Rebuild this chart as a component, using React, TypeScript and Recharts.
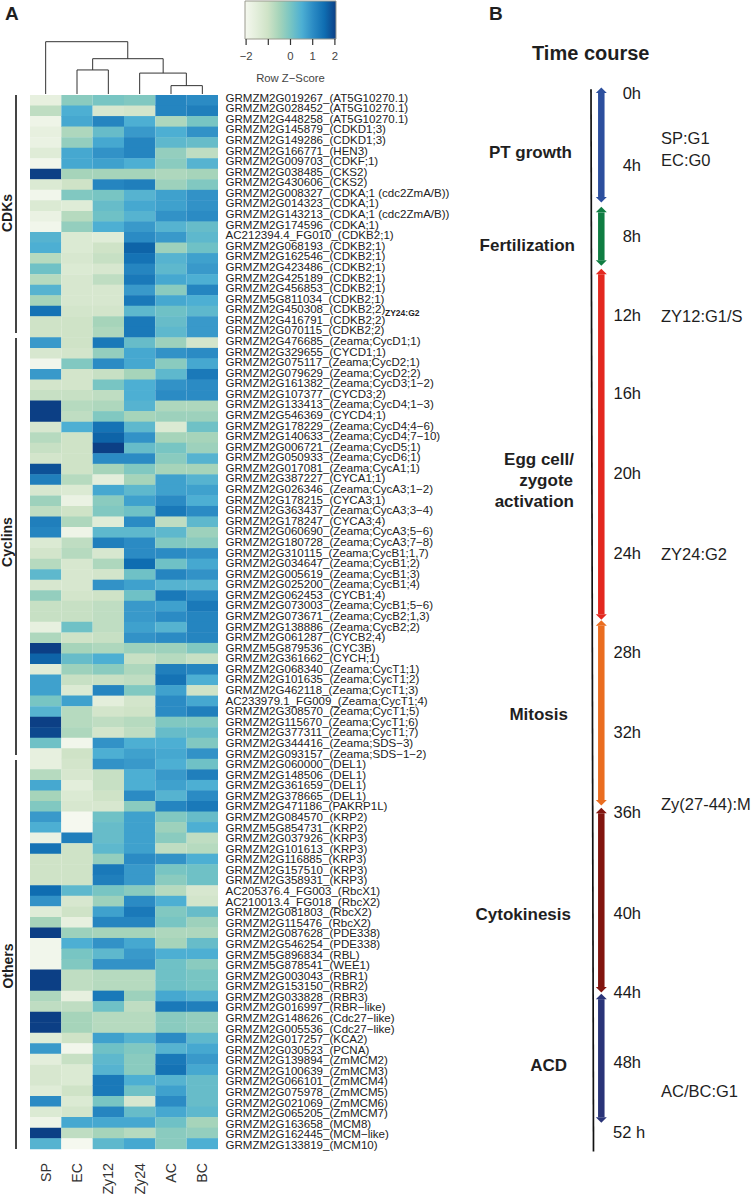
import { BarChart, Bar, Cell, XAxis, YAxis, ComposedChart, Line } from 'recharts';

const FONT = '"Liberation Sans", Arial, sans-serif';

const samples = ['SP', 'EC', 'Zy12', 'Zy24', 'AC', 'BC'];
const sampleTicks = [0.5, 1.5, 2.5, 3.5, 4.5, 5.5];

const cdkGenes = [
    'GRMZM2G019267_(AT5G10270.1)', 'GRMZM2G028452_(AT5G10270.1)', 'GRMZM2G448258_(AT5G10270.1)',
    'GRMZM2G145879_(CDKD1;3)', 'GRMZM2G149286_(CDKD1;3)', 'GRMZM2G166771_(HEN3)', 'GRMZM2G009703_(CDKF;1)',
    'GRMZM2G038485_(CKS2)', 'GRMZM2G430606_(CKS2)', 'GRMZM2G008327_(CDKA;1 (cdc2ZmA/B))', 'GRMZM2G014323_(CDKA;1)',
    'GRMZM2G143213_(CDKA;1 (cdc2ZmA/B))', 'GRMZM2G174596_(CDKA;1)', 'AC212394.4_FG010_(CDKB2;1)',
    'GRMZM2G068193_(CDKB2;1)', 'GRMZM2G162546_(CDKB2;1)', 'GRMZM2G423486_(CDKB2;1)', 'GRMZM2G425189_(CDKB2;1)',
    'GRMZM2G456853_(CDKB2;1)', 'GRMZM5G811034_(CDKB2;1)', 'GRMZM2G450308_(CDKB2;2)', 'GRMZM2G416791_(CDKB2;2)',
    'GRMZM2G070115_(CDKB2;2)',
];
const cyclinGenes = [
    'GRMZM2G476685_(Zeama;CycD1;1)', 'GRMZM2G329655_(CYCD1;1)', 'GRMZM2G075117_(Zeama;CycD2;1)',
    'GRMZM2G079629_(Zeama;CycD2;2)', 'GRMZM2G161382_(Zeama;CycD3;1−2)', 'GRMZM2G107377_(CYCD3;2)',
    'GRMZM2G133413_(Zeama;CycD4;1−3)', 'GRMZM2G546369_(CYCD4;1)', 'GRMZM2G178229_(Zeama;CycD4;4−6)',
    'GRMZM2G140633_(Zeama;CycD4;7−10)', 'GRMZM2G006721_(Zeama;CycD5;1)', 'GRMZM2G050933_(Zeama;CycD6;1)',
    'GRMZM2G017081_(Zeama;CycA1;1)', 'GRMZM2G387227_(CYCA1;1)', 'GRMZM2G026346_(Zeama;CycA3;1−2)',
    'GRMZM2G178215_(CYCA3;1)', 'GRMZM2G363437_(Zeama;CycA3;3−4)', 'GRMZM2G178247_(CYCA3;4)',
    'GRMZM2G060690_(Zeama;CycA3;5−6)', 'GRMZM2G180728_(Zeama;CycA3;7−8)', 'GRMZM2G310115_(Zeama;CycB1;1,7)',
    'GRMZM2G034647_(Zeama;CycB1;2)', 'GRMZM2G005619_(Zeama;CycB1;3)', 'GRMZM2G025200_(Zeama;CycB1;4)',
    'GRMZM2G062453_(CYCB1;4)', 'GRMZM2G073003_(Zeama;CycB1;5−6)', 'GRMZM2G073671_(Zeama;CycB2;1,3)',
    'GRMZM2G138886_(Zeama;CycB2;2)', 'GRMZM2G061287_(CYCB2;4)', 'GRMZM5G879536_(CYC3B)', 'GRMZM2G361662_(CYCH;1)',
    'GRMZM2G068340_(Zeama;CycT1;1)', 'GRMZM2G101635_(Zeama;CycT1;2)', 'GRMZM2G462118_(Zeama;CycT1;3)',
    'AC233979.1_FG009_(Zeama;CycT1;4)', 'GRMZM2G308570_(Zeama;CycT1;5)', 'GRMZM2G115670_(Zeama;CycT1;6)',
    'GRMZM2G377311_(Zeama;CycT1;7)', 'GRMZM2G344416_(Zeama;SDS−3)', 'GRMZM2G093157_(Zeama;SDS−1−2)',
];
const otherGenes = [
    'GRMZM2G060000_(DEL1)', 'GRMZM2G148506_(DEL1)', 'GRMZM2G361659_(DEL1)', 'GRMZM2G378665_(DEL1)',
    'GRMZM2G471186_(PAKRP1L)', 'GRMZM2G084570_(KRP2)', 'GRMZM5G854731_(KRP2)', 'GRMZM2G037926_(KRP3)',
    'GRMZM2G101613_(KRP3)', 'GRMZM2G116885_(KRP3)', 'GRMZM2G157510_(KRP3)', 'GRMZM2G358931_(KRP3)',
    'AC205376.4_FG003_(RbcX1)', 'AC210013.4_FG018_(RbcX2)', 'GRMZM2G081803_(RbcX2)', 'GRMZM2G115476_(RbcX2)',
    'GRMZM2G087628_(PDE338)', 'GRMZM2G546254_(PDE338)', 'GRMZM5G896834_(RBL)', 'GRMZM5G878541_(WEE1)',
    'GRMZM2G003043_(RBR1)', 'GRMZM2G153150_(RBR2)', 'GRMZM2G033828_(RBR3)', 'GRMZM2G016997_(RBR−like)',
    'GRMZM2G148626_(Cdc27−like)', 'GRMZM2G005536_(Cdc27−like)', 'GRMZM2G017257_(KCA2)', 'GRMZM2G030523_(PCNA)',
    'GRMZM2G139894_(ZmMCM2)', 'GRMZM2G100639_(ZmMCM3)', 'GRMZM2G066101_(ZmMCM4)', 'GRMZM2G075978_(ZmMCM5)',
    'GRMZM2G021069_(ZmMCM6)', 'GRMZM2G065205_(ZmMCM7)', 'GRMZM2G163658_(MCM8)', 'GRMZM2G162445_(MCM−like)',
    'GRMZM2G133819_(MCM10)',
];

// row z-scores: SP, EC, Zy12, Zy24, AC, BC
const cdkScores = [
    [-1.6, -0.2, 0, -0.1, 1.1, 1], [-0.8, 0.5, -1.2, -1.1, 1.1, 1.2], [-1.8, 0.6, 1.1, 0.5, -0.6, 0],
    [-1.6, -0.6, 0.2, 0.8, 0.5, 0.9], [-1.7, -0.3, 0.6, 1.1, 0.3, 0.2], [-1.4, 0.6, 0.9, 1.1, -0.3, -0.8],
    [-1.9, 0.6, 0.7, 0.5, -0.2, 0.4], [2, -0.5, -0.5, -0.5, -0.6, -0.5], [-1.3, -1, 1.1, 1.2, -0.4, -0.1],
    [-1.9, -0.1, 0, 0.4, 0.7, 0.9], [-1.3, -1.4, 0.2, 0.6, 0.7, 0.9], [-1.7, -0.7, 0.1, 0.4, 0.9, 1],
    [-1.9, -0.3, 0.5, 0.8, 0.4, 0.2], [0.4, -1.3, -1.4, 1, 0.8, 0.3], [0.5, -1.3, -1, 1.6, -0.4, 0.1],
    [-0.7, -1.2, -0.9, 1.4, 0.4, 0.7], [0.1, -1.3, -1.2, 1.1, 0.3, 0.8], [-0.7, -1.2, -0.8, 1.3, 0.6, 0.5],
    [0.4, -1.2, -1.2, 0.8, -0.2, 1.1], [-0.5, -1.2, -1.2, 1.3, 0.6, 0.5], [1.4, -1.1, -1.1, 0.3, 0.1, 0.3],
    [-1, -1, -0.5, 1.3, 0.2, 0.8], [-1, -1, -0.6, 1.3, 0.3, 0.8],
];
const cyclinScores = [
    [0.8, -1, 1.3, 0.2, -0.4, -1.1], [-1.2, -1.1, -0.3, 0.6, 0.9, 1], [-1.9, -0.1, 1, 0.6, -0.2, 0.6],
    [0.8, -1.1, -0.9, -0.5, 0.3, 1.3], [-1.1, -1.1, 0, 0.5, 0.9, 1], [-0.9, -0.9, -0.8, 0.5, 1, 1],
    [2, -0.7, -0.6, 0.4, -0.6, -0.6], [2, -0.8, -0.1, -0.5, -0.4, -0.4], [-1.2, 0.5, 1.4, 0.3, -1.3, 0.1],
    [-0.7, -1, 1.6, 0.9, -0.5, -0.5], [-0.9, -1, 2, 0.2, 0, -0.4], [-1.1, -1, 1, 1, -0.2, 0.4],
    [1.8, -1, -0.5, -0.1, -0.5, -0.5], [1.2, -0.7, -1.5, -0.5, 0.7, 0.4], [-1.2, -1.3, 0.6, 0.3, 0.7, 0.7],
    [-0.4, -1.7, -0.2, 0.7, 1, 0.5], [-0.8, -1, -0.1, 0.1, 1.3, 1], [1.2, -0.6, -1.4, 1, -0.8, 0.3],
    [1.1, -1.8, 0.3, 0.3, 0.3, -0.4], [-1.3, -0.8, 1.2, 1, -0.1, -0.2], [-1.1, -0.7, -1.2, 1, 1, 0.9],
    [-0.7, -1.2, -0.6, 1.5, 0.1, 0.6], [0.3, -1.2, -1.1, 0.1, 1.1, 0.9], [-1.2, -1.2, 0.9, 0.7, 0.4, 0.4],
    [-0.3, -1.1, -1, 0.1, 1.3, 1], [-0.9, -0.9, -0.8, 0.8, 0.7, 1.3], [-0.9, -0.9, -0.8, 0.8, 1, 1.1],
    [-1.6, 0.1, -0.8, 0.7, 0.4, 1.1], [-0.6, -1, -0.9, 0.9, 1, 1.1], [2, -0.5, -0.6, -0.4, -0.4, -0.1],
    [1.6, 0.2, 0.5, -0.9, -0.7, -0.9], [-1.4, -0.4, -0.2, -0.6, 1.2, 1.1], [0.7, -0.9, -0.9, -0.8, 1.4, 0.5],
    [0.7, -1.3, 1.1, -0.1, 0.7, -1], [0, 0.7, -1.5, -1.1, 1, 0.6], [0.4, -0.7, -1.1, -1, 1, 1.2],
    [2, -0.7, -0.8, -0.7, -0.1, -0.1], [1.9, -0.6, -1.1, -0.8, 0.2, 0.2], [0.1, -1.9, 0.9, 0.5, 0.5, -0.1],
    [-1.6, -1, 0.5, 0.7, 0.6, 0.9],
];
const otherScores = [
    [-1.6, -1.1, 0.9, 0.8, 0.5, 0.1], [-0.7, -1.2, -0.9, 0.5, 0.8, 1.2], [0.6, -1.5, -0.9, 0.5, 0.7, 0.5],
    [-0.5, -1.3, -1, 1, 0.4, 1], [-0.1, -1.2, -1.2, -0.2, 1.1, 1.3], [0.8, -2, 0.1, 0.7, -0.1, 0.2],
    [0.5, -2, 0.2, 0.7, -0.4, 0.5], [-1.7, 1.2, 0.2, 0.7, -0.2, -0.8], [1.4, -1, 0.3, 0.7, -0.8, -0.7],
    [-1, -1, -0.3, 1, 0.9, 0.5], [-1, -1, 1.3, 0.8, 0, 0.1], [-1, -1, 1.2, 0.8, -0.2, 0.1],
    [1.5, 0.3, 0, -0.2, -0.7, -1.2], [0.9, -1.2, -0.4, 1, 0.5, -1.1], [-1.4, -1, 0.7, 1.3, -0.1, 0.2],
    [-0.5, -1.6, 1.1, 1.1, 0, -0.4], [2, -0.4, -0.5, -0.5, -0.6, -0.6], [-1.9, 0.5, 0.9, 0.6, -0.5, 0.2],
    [-1.9, 0, 0.3, 0.8, 0.5, 0.5], [-1.9, -0.1, 0.9, 0.9, 0.1, -0.2], [2, -0.8, -0.7, -0.7, 0.1, 0],
    [2, -0.8, -0.7, -0.7, 0.1, 0], [-0.6, -1.6, 1.3, -0.4, 0.6, 0.4], [-0.8, -0.8, 0.1, -0.8, 1.3, 1.2],
    [2, -0.5, -0.7, -0.7, -0.2, -0.3], [2, -0.5, -0.7, -0.7, -0.2, -0.3], [-1.4, -1, 0.7, 0.4, 1, 0.3],
    [0.8, -1.9, 0.1, -0.1, 0.4, 0.6], [-1.5, -0.9, 0.3, -0.2, 1.3, 0.8], [-1.2, -1.3, 0.4, -0.2, 1.4, 0.6],
    [-1.2, -1.3, 1.3, 0.5, 0.4, 0.2], [-1.4, -1, 1.3, 0.1, 0.7, 0.2], [1, -1.3, 0, -1.2, 1, 0.2],
    [-1.3, -1.1, 1.1, 0.2, 0.6, 0.3], [-1.8, 0.6, 0.6, 0.6, 0.1, -0.5], [2, -0.8, -0.5, -0.7, -0.2, -0.3],
    [0.4, -2, 0.3, 0.6, -0.2, 0.5],
];

// colour key, evenly spaced from -2 to 2
const keyColors = ['#f5f8ef', '#e3eedb', '#cfe3c7', '#a6d4ba', '#78c5c3', '#4dafd3', '#2b8bc4', '#0f6db1', '#0c3f85'];
const keyTicks = [-2, -1, 0, 1, 2];

// dendrogram joins, as [left x, left height, right x, right height, join height]
const dendrogramJoins = [
    [4.5, 0, 5.5, 0, 0.16],
    [3.5, 0, 4.99, 0.16, 0.4],
    [1.5, 0, 2.5, 0, 0.46],
    [2, 0.46, 4.25, 0.4, 0.675],
    [0.5, 0, 3.12, 0.675, 1],
];

// time course; the hour labels are not evenly spaced along the drawn line
const timeLabels = ['0h', '4h', '8h', '12h', '16h', '20h', '24h', '28h', '32h', '36h', '40h', '44h', '48h', '52 h'];
const timeTickPositions = [0, 3.6, 7.14, 11.08, 15.02, 19.02, 23.02, 27.98, 31.97, 35.99, 41.04, 45, 48.5, 52];
const phaseNames = ['PT growth', 'Fertilization', 'Egg cell/zygote activation', 'Mitosis', 'Cytokinesis', 'ACD'];
const phaseStart = [-0.02, 5.96, 9.06, 26.65, 36.04, 45.34];
const phaseEnd = [5.19, 8.36, 26.08, 35.37, 44.73, 51.25];
const phaseColors = ['#2c4f9e', '#0f7d42', '#e3281f', '#ea6d20', '#82150f', '#2a3478'];

const genes = [...cdkGenes, ...cyclinGenes, ...otherGenes];
const scores = [...cdkScores, ...cyclinScores, ...otherScores];
const heatRows = genes.map((gene) => ({ gene, span: 1 }));

function toRgb(hex: string) {
    return [1, 3, 5].map((i) => parseInt(hex.slice(i, i + 2), 16));
}

function scoreColor(z: number) {
    const pos = (Math.min(2, Math.max(-2, z)) + 2) * 2;
    const i = Math.min(keyColors.length - 2, Math.floor(pos));
    const a = toRgb(keyColors[i]);
    const b = toRgb(keyColors[i + 1]);
    const c = a.map((v, k) => Math.round(v + (b[k] - v) * (pos - i)));
    return `rgb(${c[0]},${c[1]},${c[2]})`;
}

function SampleTick({ x, payload }: any) {
    return (
        <text
            x={x}
            y={1163}
            transform={`rotate(-90 ${x} 1163)`}
            textAnchor='end'
            dominantBaseline='central'
            fontSize={14.2}
            fontFamily={FONT}
            fill='#333'
        >
            {samples[Math.floor(payload.value)]}
        </text>
    );
}

// the gene labels run on a slightly wider pitch than the rows
function GeneTick({ x, y, payload, index }: any) {
    return (
        <text
            x={225.5}
            y={y - 2.6 + (index * 4.1) / 99}
            dominantBaseline='central'
            fontSize={11.55}
            fontFamily={FONT}
            fill='#222'
        >
            {payload.value}
        </text>
    );
}

function TimeTick({ x, y, payload }: any) {
    const label = timeLabels[timeTickPositions.indexOf(payload.value)];
    return (
        <text
            x={label.length > 3 ? 613 - 561 : x}
            y={y}
            textAnchor={label.length > 3 ? 'start' : 'end'}
            dominantBaseline='central'
            fontSize={16.5}
            fontFamily={FONT}
            fill='#1a1a1a'
        >
            {label}
        </text>
    );
}

// arrow head sitting on each end of a phase shaft
function ArrowHead({ cx, cy, index, fill }: any) {
    const tip = index === 0 ? cy - 5.5 : cy + 5.5;
    return <path d={`M${cx - 5.5} ${cy}L${cx} ${tip}L${cx + 5.5} ${cy}Z`} fill={fill} />;
}

function Heatmap() {
    return (
        <BarChart
            width={500}
            height={1197}
            data={heatRows}
            layout='vertical'
            barCategoryGap={0}
            margin={{ top: 95, right: 0, bottom: 0, left: 30 }}
            style={{ position: 'absolute', left: 0, top: 0 }}
        >
            <XAxis
                type='number'
                domain={[0, 6]}
                ticks={sampleTicks}
                height={48.3}
                axisLine={false}
                tickLine={false}
                tick={<SampleTick />}
            />
            <YAxis
                type='category'
                dataKey='gene'
                orientation='right'
                width={282}
                interval={0}
                axisLine={false}
                tickLine={false}
                tick={<GeneTick />}
            />
            {samples.map((s, col) => (
                <Bar key={s} dataKey='span' stackId='row' isAnimationActive={false}>
                    {scores.map((row, i) => (
                        <Cell key={i} fill={scoreColor(row[col])} />
                    ))}
                </Bar>
            ))}
        </BarChart>
    );
}

function Dendrogram() {
    return (
        <ComposedChart
            width={248}
            height={110}
            margin={{ top: 41.7, right: 30, bottom: 16, left: 30 }}
            style={{ position: 'absolute', left: 0, top: 0 }}
        >
            <XAxis type='number' dataKey='x' domain={[0, 6]} hide />
            <YAxis type='number' domain={[0, 1]} hide />
            {dendrogramJoins.map(([lx, lh, rx, rh, top], i) => (
                <Line
                    key={i}
                    data={[
                        { x: lx, h: lh },
                        { x: lx, h: top },
                        { x: rx, h: top },
                        { x: rx, h: rh },
                    ]}
                    dataKey='h'
                    stroke='#333'
                    strokeWidth={1}
                    dot={false}
                    isAnimationActive={false}
                />
            ))}
        </ComposedChart>
    );
}

function ColorKey() {
    return (
        <BarChart
            width={135}
            height={84}
            data={[{ name: 'key', span: [-2.05, 2.05] }]}
            layout='vertical'
            barCategoryGap={0}
            margin={{ top: 1, right: 24, bottom: 0, left: 20 }}
            style={{ position: 'absolute', left: 225, top: 0 }}
        >
            <defs>
                <linearGradient id='keyFill' x1='0' y1='0' x2='1' y2='0'>
                    {keyColors.map((c, i) => (
                        <stop key={c} offset={`${(i / (keyColors.length - 1)) * 100}%`} stopColor={c} />
                    ))}
                </linearGradient>
            </defs>
            <XAxis
                type='number'
                domain={[-2.05, 2.05]}
                ticks={keyTicks}
                height={45}
                axisLine={false}
                tickSize={6}
                tickMargin={7}
                tickLine={{ stroke: '#333', strokeWidth: 1.2 }}
                tickFormatter={(v) => (v === -1 ? '' : String(v).replace('-', '−'))}
                tick={{ fontSize: 11.3, fontFamily: FONT, fill: '#444' }}
                label={{
                    value: 'Row Z−Score',
                    position: 'insideBottom',
                    offset: 2,
                    fontSize: 11.3,
                    fontFamily: FONT,
                    fill: '#444',
                }}
            />
            <YAxis type='category' dataKey='name' hide />
            <Bar dataKey='span' fill='url(#keyFill)' stroke='#9a9a8e' strokeWidth={1} isAnimationActive={false} />
        </BarChart>
    );
}

function TimeCourse() {
    return (
        <ComposedChart
            width={130}
            height={1197}
            margin={{ top: 73.3, right: 0, bottom: 24.8, left: 20 }}
            style={{ position: 'absolute', left: 561, top: 0 }}
        >
            <XAxis type='number' dataKey='x' domain={[0, 60]} hide />
            <YAxis
                type='number'
                orientation='right'
                domain={[-1, 54]}
                reversed
                ticks={timeTickPositions}
                width={50}
                interval={0}
                axisLine={false}
                tickLine={false}
                tickSize={0}
                tickMargin={0}
                tick={<TimeTick />}
            />
            <Line
                data={[
                    { x: 10, t: -0.2 },
                    { x: 12.5, t: 52.97 },
                ]}
                dataKey='t'
                stroke='#111'
                strokeWidth={1.7}
                dot={false}
                isAnimationActive={false}
            />
            {phaseNames.map((name, i) => (
                <Line
                    key={name}
                    data={[
                        { x: 20.3, t: phaseStart[i] },
                        { x: 20.3, t: phaseEnd[i] },
                    ]}
                    dataKey='t'
                    stroke={phaseColors[i]}
                    strokeWidth={6.5}
                    strokeLinecap='butt'
                    dot={<ArrowHead fill={phaseColors[i]} />}
                    isAnimationActive={false}
                />
            ))}
        </ComposedChart>
    );
}

function Notes() {
    const bold = { fontFamily: FONT, fontWeight: 700, fill: '#1f1f1f', dominantBaseline: 'central' } as const;
    const plain = { fontFamily: FONT, fontSize: 16.5, fill: '#1f1f1f', dominantBaseline: 'central' } as const;
    return (
        <svg width={754} height={1197} style={{ position: 'absolute', left: 0, top: 0, pointerEvents: 'none' }}>
            <text x={5} y={13.5} fontSize={19} {...bold}>A</text>
            <text x={489} y={13.5} fontSize={19} {...bold}>B</text>
            <text x={532} y={52.7} fontSize={20} {...bold}>Time course</text>

            <line x1={16} x2={16} y1={95} y2={333} stroke='#444' strokeWidth={2} />
            <line x1={16} x2={16} y1={338} y2={755} stroke='#444' strokeWidth={2} />
            <line x1={16} x2={16} y1={760} y2={1149} stroke='#444' strokeWidth={2} />
            <text transform='rotate(-90 7 213)' x={7} y={213} textAnchor='middle' fontSize={14} {...bold}>CDKs</text>
            <text transform='rotate(-90 7 542)' x={7} y={542} textAnchor='middle' fontSize={14} {...bold}>Cyclins</text>
            <text transform='rotate(-90 8 966)' x={8} y={966} textAnchor='middle' fontSize={14} {...bold}>Others</text>
            <text x={385} y={313} fontSize={8.5} {...bold}>ZY24:G2</text>

            <text x={572} y={152.7} textAnchor='end' fontSize={17} {...bold}>PT growth</text>
            <text x={575} y={245} textAnchor='end' fontSize={17} {...bold}>Fertilization</text>
            <text x={574} y={459} textAnchor='end' fontSize={17} {...bold}>Egg cell/</text>
            <text x={573} y={480.7} textAnchor='end' fontSize={17} {...bold}>zygote</text>
            <text x={574} y={501.7} textAnchor='end' fontSize={17} {...bold}>activation</text>
            <text x={568} y={714} textAnchor='end' fontSize={17} {...bold}>Mitosis</text>
            <text x={571} y={914} textAnchor='end' fontSize={17} {...bold}>Cytokinesis</text>
            <text x={567} y={1065} textAnchor='end' fontSize={17} {...bold}>ACD</text>

            <text x={661} y={138} {...plain}>SP:G1</text>
            <text x={661} y={160} {...plain}>EC:G0</text>
            <text x={661} y={316} {...plain}>ZY12:G1/S</text>
            <text x={661} y={554} {...plain}>ZY24:G2</text>
            <text x={661} y={804} {...plain}>Zy(27-44):M</text>
            <text x={661} y={1091} {...plain}>AC/BC:G1</text>
        </svg>
    );
}

export default function App() {
    return (
        <div style={{ position: 'absolute', left: 0, top: 0, width: 754, height: 1197, background: '#fff', overflow: 'hidden' }}>
            <Heatmap />
            <Dendrogram />
            <ColorKey />
            <TimeCourse />
            <Notes />
        </div>
    );
}
